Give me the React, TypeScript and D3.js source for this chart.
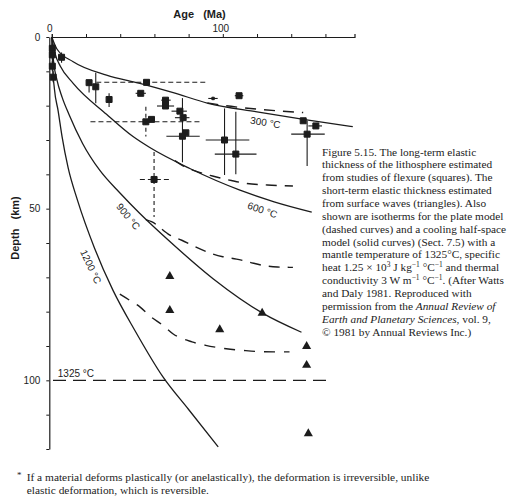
import React, { useRef, useEffect } from 'react';
import * as d3 from 'd3';

type Pt = [number, number]; // [age Ma, depth km]

// half-space cooling isotherms (solid)
const half300: Pt[] = [[0, 0], [3, 3.5], [12.5, 7.2], [32, 11.1], [51.5, 13.5], [71, 16.2], [91.4, 19.3], [120, 21.8], [150, 24.2], [176, 26.1]];
const half600: Pt[] = [[0, 0], [2, 5], [5, 8.5], [12.5, 13.5], [32, 22.5], [47.5, 29], [57.3, 32.2], [80.7, 38.3], [110, 44.6], [130, 48], [152, 51]];
const half900: Pt[] = [[0, 0], [1, 7], [3, 12.5], [6, 17.5], [10, 22.5], [18, 31], [28, 38.8], [40, 45.5], [51.5, 51.4], [70, 60], [94.3, 70.4], [123.5, 80.5], [146, 86]];
const half1200: Pt[] = [[0, 0], [0.5, 8.5], [1.5, 15], [3.7, 21.5], [6, 29], [9.5, 38], [15, 47.5], [25, 61.5], [35.8, 73.8], [48.5, 85.4], [65, 99], [80, 108.5], [97.3, 119.4]];

// plate model isotherms (dashed)
const plate300: Pt[] = [[91, 19.2], [100, 19.9], [110, 20.5], [120, 21], [132, 21.5], [147, 22]];
const plate600: Pt[] = [[72, 36], [76, 37.3], [85, 39.2], [94, 40.5], [105, 41.8], [113, 42.6], [126, 43.1], [141, 43.4]];
const plate900: Pt[] = [[55, 53.2], [58.3, 53.8], [69, 57.7], [76, 59.2], [83, 60.9], [93, 63], [100, 64], [108, 64.7], [115, 65.5], [123, 66.5], [132, 67], [141, 67.1]];
const plate1200: Pt[] = [[36.8, 74], [45.6, 76.7], [51.5, 78.6], [58, 81.5], [65, 84], [71, 86.5], [82, 88.8], [90, 89.8], [96.5, 90.4], [102, 90.8], [112, 91.3], [120, 91.6], [130, 91.7], [139, 91.7]];
const plate1325: Pt[] = [[0.7, 100], [164, 100]];

// long-term elastic thickness from flexure (squares)
type Flex = { age: number; depth: number; a?: [number, number]; d?: [number, number]; dash?: boolean; small?: boolean };
const flexure: Flex[] = [
  { age: 0.3, depth: 3.3, d: [2, 4.8] },
  { age: 0.3, depth: 5.2, d: [4, 6.5] },
  { age: 0.3, depth: 8.5, d: [7, 10] },
  { age: 0.8, depth: 11.7, d: [10, 13.2] },
  { age: 5.7, depth: 5.9, d: [4.5, 7.5] },
  { age: 21.8, depth: 13.3, d: [13.3, 16.2] },
  { age: 25.7, depth: 14.5, d: [10.4, 19.3] },
  { age: 55.4, depth: 13.2, a: [26, 90], dash: true },
  { age: 33.5, depth: 18.2, d: [16.4, 20.4] },
  { age: 52, depth: 16.4, a: [49, 55] },
  { age: 66.5, depth: 18.4, a: [64, 69.5] },
  { age: 66.5, depth: 20.1, a: [61.5, 71.5] },
  { age: 74.9, depth: 21.6, a: [70, 79] },
  { age: 76.8, depth: 23.5, a: [72, 80.5] },
  { age: 78.4, depth: 27.9 },
  { age: 76.4, depth: 28.9, a: [67, 86.5], d: [17.8, 36.5] },
  { age: 55, depth: 24.7, a: [22.6, 88], d: [20.3, 29], dash: true },
  { age: 58.3, depth: 24 },
  { age: 59.8, depth: 41.5, a: [51.5, 70], d: [33.5, 52.4], dash: true },
  { age: 94.3, depth: 17.9, a: [91.5, 97], small: true },
  { age: 109.5, depth: 17.1, a: [107, 112] },
  { age: 101, depth: 30, a: [90, 115.5], d: [20.8, 40.2] },
  { age: 107.6, depth: 34.1, a: [95.3, 119.7], d: [21.8, 40] },
  { age: 147, depth: 24.4 },
  { age: 154.4, depth: 25.9, a: [150, 158] },
  { age: 149.3, depth: 28.3, a: [140, 159.6], d: [24.4, 37.6] },
];

// short-term elastic thickness from surface waves (triangles)
const surfaceWaves: Pt[] = [[69, 69.7], [69, 79.6], [98.2, 85.2], [123, 80.4], [149, 90.1], [149, 95.6], [150, 115.5]];

const isoLabels = [
  { text: '300 °C', age: 124.9, depth: 24.9, rot: 9 },
  { text: '600 °C', age: 123.2, depth: 50.4, rot: 19 },
  { text: '900 °C', age: 44.7, depth: 52.3, rot: 51 },
  { text: '1200 °C', age: 22.8, depth: 66.9, rot: 65 },
];

type Seg = { t: string; sup?: boolean; it?: boolean };
const caption: Seg[][] = [
  [{ t: 'Figure 5.15.  The long-term elastic' }],
  [{ t: 'thickness of the lithosphere estimated' }],
  [{ t: 'from studies of flexure (squares). The' }],
  [{ t: 'short-term elastic thickness estimated' }],
  [{ t: 'from surface waves (triangles). Also' }],
  [{ t: 'shown are isotherms for the plate model' }],
  [{ t: '(dashed curves) and a cooling half-space' }],
  [{ t: 'model (solid curves) (Sect. 7.5) with a' }],
  [{ t: 'mantle temperature of 1325°C, specific' }],
  [{ t: 'heat 1.25 × 10' }, { t: '3', sup: true }, { t: ' J kg' }, { t: '−1', sup: true }, { t: ' °C' }, { t: '−1', sup: true }, { t: ' and thermal' }],
  [{ t: 'conductivity 3 W m' }, { t: '−1', sup: true }, { t: ' °C' }, { t: '−1', sup: true }, { t: '. (After Watts' }],
  [{ t: 'and Daly 1981. Reproduced with' }],
  [{ t: 'permission from the ' }, { t: 'Annual Review of', it: true }],
  [{ t: 'Earth and Planetary Sciences', it: true }, { t: ', vol. 9,' }],
  [{ t: '© 1981 by Annual Reviews Inc.)' }],
];

const footnote = [
  'If a material deforms plastically (or anelastically), the deformation is irreversible, unlike',
  'elastic deformation, which is reversible.',
];

const W = 507;
const H = 499;
const INK = '#1c1c1c';

const Figure: React.FC = () => {
  const svgRef = useRef<SVGSVGElement | null>(null);

  useEffect(() => {
    if (!svgRef.current) return;
    const svg = d3.select(svgRef.current);
    svg.selectAll('*').remove();

    const x = d3.scaleLinear().domain([0, 177]).range([51.8, 354.5]);
    const y = d3.scaleLinear().domain([0, 120]).range([37, 449]);
    const x0 = x(0) - 2.5;

    // axes
    const top = svg.append('g').attr('transform', `translate(0,${y(0)})`)
      .call(d3.axisTop(x).tickValues(d3.range(0, 161, 20)).tickSize(3).tickSizeOuter(3).tickFormat(() => ''));
    top.select('.domain').attr('stroke', INK).attr('stroke-width', 1.2);
    top.selectAll('line').attr('stroke', INK);

    const left = svg.append('g').attr('transform', `translate(${x0},0)`)
      .call(d3.axisLeft(y).tickValues(d3.range(0, 121, 10)).tickSize(3).tickSizeOuter(0)
        .tickFormat(d => ([0, 50, 100].includes(+d) ? String(d) : '')));
    left.select('.domain').attr('stroke', INK).attr('stroke-width', 1.2);
    left.selectAll('line').attr('stroke', INK);
    left.selectAll('text').attr('font-family', 'Liberation Sans, Arial, sans-serif').attr('font-size', 10).attr('fill', INK).attr('x', -9);

    const sans = 'Liberation Sans, Arial, sans-serif';
    svg.append('text').attr('x', x(0) - 2).attr('y', 32).attr('text-anchor', 'middle')
      .attr('font-family', sans).attr('font-size', 10).attr('fill', INK).text('0');
    svg.append('text').attr('x', x(100) - 2).attr('y', 31.5).attr('text-anchor', 'middle')
      .attr('font-family', sans).attr('font-size', 10).attr('fill', INK).text('100');
    svg.append('text').attr('x', 199.5).attr('y', 18).attr('text-anchor', 'middle')
      .attr('font-family', sans).attr('font-size', 11).attr('fill', INK).attr('font-weight', 600)
      .attr('xml:space', 'preserve').text('Age   (Ma)');
    svg.append('text').attr('transform', 'translate(19,228) rotate(-90)').attr('text-anchor', 'middle')
      .attr('font-family', sans).attr('font-size', 11).attr('fill', INK).attr('font-weight', 600)
      .attr('xml:space', 'preserve').text('Depth   (km)');

    // isotherms
    const line = d3.line<Pt>().x(d => x(d[0])).y(d => y(d[1])).curve(d3.curveMonotoneX);
    const curves = svg.append('g').attr('fill', 'none').attr('stroke', INK);
    [half300, half600, half900, half1200].forEach(c => {
      curves.append('path').attr('d', line(c)).attr('stroke-width', 1.3);
    });
    [plate300, plate600, plate900].forEach(c => {
      curves.append('path').attr('d', line(c)).attr('stroke-width', 1.4).attr('stroke-dasharray', '11 8');
    });
    curves.append('path').attr('d', line(plate1200)).attr('stroke-width', 1.4).attr('stroke-dasharray', '11 9').attr('stroke-dashoffset', -6);
    curves.append('path').attr('d', line(plate1325)).attr('stroke-width', 1.3).attr('stroke-dasharray', '13 7');

    // isotherm labels
    isoLabels.forEach(l => {
      svg.append('text')
        .attr('transform', `translate(${x(l.age)},${y(l.depth)}) rotate(${l.rot})`)
        .attr('text-anchor', 'middle').attr('dy', '0.35em')
        .attr('font-family', sans).attr('font-size', 10).attr('fill', INK).text(l.text);
    });
    svg.append('text').attr('x', x(3.5)).attr('y', y(99.1))
      .attr('font-family', sans).attr('font-size', 10).attr('fill', INK).text('1325 °C');

    // error bars and squares
    const bars = svg.append('g').attr('stroke', INK).attr('stroke-width', 1.1);
    flexure.forEach(p => {
      if (p.a) {
        bars.append('line').attr('x1', x(p.a[0])).attr('x2', x(p.a[1])).attr('y1', y(p.depth)).attr('y2', y(p.depth))
          .attr('stroke-dasharray', p.dash ? '5 3' : null);
      }
      if (p.d) {
        bars.append('line').attr('x1', x(p.age)).attr('x2', x(p.age)).attr('y1', y(p.d[0])).attr('y2', y(p.d[1]))
          .attr('stroke-dasharray', p.dash ? '4 3' : null);
      }
    });
    svg.append('g').selectAll('path').data(flexure).join('path')
      .attr('transform', p => `translate(${x(p.age)},${y(p.depth)})`)
      .attr('d', p => d3.symbol(d3.symbolSquare, p.small ? 6 : 36)())
      .attr('fill', INK).attr('stroke', INK).attr('stroke-width', 1).attr('stroke-linejoin', 'round');

    svg.append('g').selectAll('path').data(surfaceWaves).join('path')
      .attr('transform', p => `translate(${x(p[0])},${y(p[1])})`)
      .attr('d', d3.symbol(d3.symbolTriangle, 36)())
      .attr('fill', INK);

    // caption
    const serif = 'Liberation Serif, Times New Roman, serif';
    const cap = svg.append('text').attr('font-family', serif).attr('font-size', 11.3).attr('fill', INK);
    caption.forEach((segs, i) => {
      const yy = 155.6 + i * 12.86;
      let shifted = false;
      segs.forEach((s, j) => {
        const ts = cap.append('tspan').text(s.t);
        if (j === 0) ts.attr('x', 322).attr('y', yy);
        if (s.sup && !shifted) { ts.attr('dy', -4).attr('font-size', 7.5); shifted = true; }
        else if (s.sup) ts.attr('font-size', 7.5);
        else if (shifted) { ts.attr('dy', 4); shifted = false; }
        if (s.it) ts.attr('font-style', 'italic');
      });
    });

    // footnote
    svg.append('text').attr('x', 17).attr('y', 478).attr('font-family', serif).attr('font-size', 9).attr('fill', INK).text('*');
    footnote.forEach((t, i) => {
      svg.append('text').attr('x', 26.7).attr('y', 480.5 + i * 13.3)
        .attr('font-family', serif).attr('font-size', 11.4).attr('fill', INK).text(t);
    });
  }, []);

  return (
    <svg ref={svgRef} width={W} height={H}
      style={{ position: 'absolute', left: 0, top: 0, background: '#fff' }} />
  );
};

export default function App() {
  return <Figure />;
}
